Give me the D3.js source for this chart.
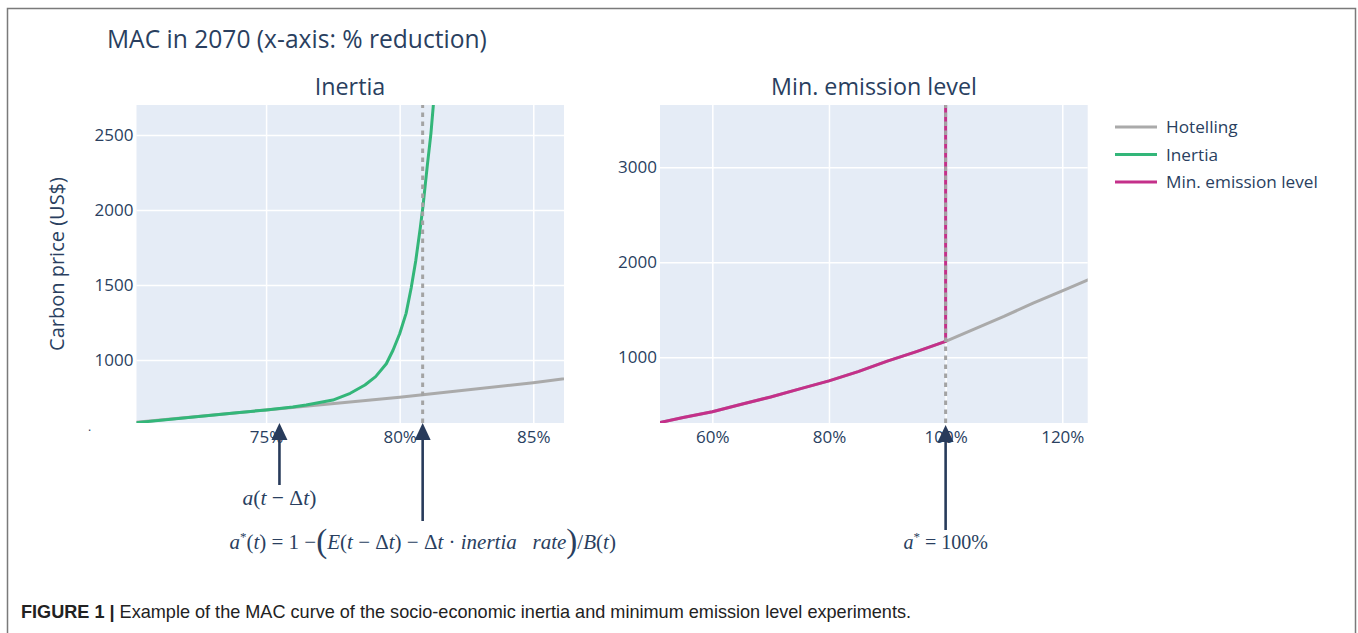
<!DOCTYPE html>
<html>
<head>
<meta charset="utf-8">
<script src="https://cdn.jsdelivr.net/npm/d3@7"></script>
<style>
  html, body { margin: 0; padding: 0; background: #fff; }
  svg { display: block; }
</style>
</head>
<body>
<svg id="chart" width="1358" height="633"></svg>
<script>
// ---------- DATA ----------
const hotellingX = [50, 55, 60, 65, 70, 75, 80, 85, 90, 95, 100, 105, 110, 115, 120, 125];
const hotellingY = [300, 365, 427, 505, 582, 667, 752, 849, 960, 1060, 1167, 1300, 1430, 1570, 1700, 1830];

const inertiaX = [70, 72, 74, 75, 76, 76.5, 77.5, 78.15, 78.7, 79.1, 79.5, 79.75, 80, 80.24, 80.43, 80.6, 80.77, 80.87, 81.03, 81.17, 81.26, 81.4];
const inertiaY = [580, 615, 650, 667, 686, 700, 733, 778, 833, 889, 975, 1065, 1175, 1311, 1480, 1660, 1880, 2022, 2289, 2511, 2700, 3000];

const minEmX = [50, 55, 60, 65, 70, 75, 80, 85, 90, 95, 100, 100];
const minEmY = [300, 365, 427, 505, 582, 667, 752, 849, 960, 1060, 1167, 5000];

const leftXTicks = [75, 80, 85];
const leftYTicks = [1000, 1500, 2000, 2500];
const rightXTicks = [60, 80, 100, 120];
const rightYTicks = [1000, 2000, 3000];

const leftDomainX = [70.15, 86.15];
const leftDomainY = [580, 2700];
const rightDomainX = [51.03, 124.36];
const rightDomainY = [308, 3656];

const inertiaTarget = 80.86;   // a*(t)
const inertiaPrev = 75.5;      // a(t - Δt)
const minEmTarget = 100;       // a* = 100%

const seriesNames = ["Hotelling", "Inertia", "Min. emission level"];
const seriesColors = ["#aaaaaa", "#33b679", "#c4308a"];

// ---------- DRAW ----------
const svg = d3.select("#chart");
const txt = "#2a3f5f";
const font = "'Open Sans', 'Noto Sans', sans-serif";

// outer frame
svg.append("path")
  .attr("d", "M7.5,640 L7.5,8.5 L1355.5,8.5 L1355.5,640")
  .attr("fill", "none").attr("stroke", "#7a7a7a").attr("stroke-width", 1.5);

const defs = svg.append("defs");

function panel(opts) {
  const { x0, x1, y0, y1, domX, domY, xt, yt, id } = opts;
  const xs = d3.scaleLinear().domain(domX).range([x0, x1]);
  const ys = d3.scaleLinear().domain(domY).range([y1, y0]);
  defs.append("clipPath").attr("id", id)
    .append("rect").attr("x", x0).attr("y", y0).attr("width", x1 - x0).attr("height", y1 - y0);
  const g = svg.append("g");
  g.append("rect").attr("x", x0).attr("y", y0).attr("width", x1 - x0).attr("height", y1 - y0)
    .attr("fill", "#e5ecf6");
  g.append("g").attr("transform", `translate(0,${y1})`)
    .call(d3.axisBottom(xs).tickValues(xt).tickSize(-(y1 - y0)).tickFormat(d => d + "%"))
    .call(a => a.select(".domain").remove())
    .call(a => a.selectAll("line").attr("stroke", "#fff").attr("stroke-width", 1.5))
    .call(a => a.selectAll("text").attr("fill", txt).attr("font-size", 17)
      .attr("font-family", font).attr("dy", null).attr("y", 20));
  g.append("g").attr("transform", `translate(${x0},0)`)
    .call(d3.axisLeft(ys).tickValues(yt).tickSize(-(x1 - x0)).tickFormat(d3.format("d")))
    .call(a => a.select(".domain").remove())
    .call(a => a.selectAll("line").attr("stroke", "#fff").attr("stroke-width", 1.5))
    .call(a => a.selectAll("text").attr("fill", txt).attr("font-size", 17)
      .attr("font-family", font).attr("x", -3));
  const lines = g.append("g").attr("clip-path", `url(#${id})`);
  return { xs, ys, g, lines };
}

function drawLine(p, X, Y, color) {
  const data = X.map((x, i) => [x, Y[i]]);
  p.lines.append("path").datum(data)
    .attr("d", d3.line().x(d => p.xs(d[0])).y(d => p.ys(d[1])))
    .attr("fill", "none").attr("stroke", color).attr("stroke-width", 3)
    .attr("stroke-linejoin", "round");
}

function dotted(p, xv) {
  p.lines.append("line")
    .attr("x1", p.xs(xv)).attr("x2", p.xs(xv))
    .attr("y1", p.ys.range()[0]).attr("y2", p.ys.range()[1])
    .attr("stroke", "#a3a3a3").attr("stroke-width", 3).attr("stroke-dasharray", "4.5,4.5");
}

function arrow(p, xv, tipY, bottomY) {
  const x = p.xs(xv);
  const ac = "#283b5b";
  svg.append("line").attr("x1", x).attr("x2", x).attr("y1", bottomY).attr("y2", tipY + 14)
    .attr("stroke", ac).attr("stroke-width", 2.6);
  svg.append("path").attr("d", `M${x},${tipY} L${x + 8},${tipY + 17} L${x - 8},${tipY + 17} Z`)
    .attr("fill", ac);
}

const L = panel({ x0: 136.5, x1: 564, y0: 105, y1: 423, domX: leftDomainX, domY: leftDomainY,
  xt: leftXTicks, yt: leftYTicks, id: "clipL" });
const R = panel({ x0: 660, x1: 1087.7, y0: 105, y1: 423, domX: rightDomainX, domY: rightDomainY,
  xt: rightXTicks, yt: rightYTicks, id: "clipR" });

drawLine(L, hotellingX, hotellingY, seriesColors[0]);
drawLine(L, inertiaX, inertiaY, seriesColors[1]);
dotted(L, inertiaTarget);

drawLine(R, hotellingX, hotellingY, seriesColors[0]);
drawLine(R, minEmX, minEmY, seriesColors[2]);
dotted(R, minEmTarget);

// titles
svg.append("text").attr("x", 107).attr("y", 48).text("MAC in 2070 (x-axis: % reduction)")
  .attr("font-family", font).attr("font-size", 24.6).attr("fill", txt);
svg.append("text").attr("x", 350).attr("y", 95).attr("text-anchor", "middle").text("Inertia")
  .attr("font-family", font).attr("font-size", 23.3).attr("fill", txt);
svg.append("text").attr("x", 874).attr("y", 95).attr("text-anchor", "middle").text("Min. emission level")
  .attr("font-family", font).attr("font-size", 23.3).attr("fill", txt);
svg.append("text").attr("transform", "translate(64,264) rotate(-90)").attr("text-anchor", "middle")
  .text("Carbon price (US$)").attr("font-family", font).attr("font-size", 20).attr("fill", txt);
svg.append("text").attr("x", 88).attr("y", 431).text(".").attr("font-family", font)
  .attr("font-size", 12).attr("fill", txt);

// legend
const lg = svg.append("g");
seriesNames.forEach((n, i) => {
  const y = 127 + i * 27.5;
  lg.append("line").attr("x1", 1115).attr("x2", 1157).attr("y1", y).attr("y2", y)
    .attr("stroke", seriesColors[i]).attr("stroke-width", 3);
  lg.append("text").attr("x", 1166).attr("y", y + 6).text(n)
    .attr("font-family", font).attr("font-size", 17.2).attr("fill", txt);
});

// arrows
arrow(L, inertiaPrev, 423, 485);
arrow(L, inertiaTarget, 423, 521);
arrow(R, minEmTarget, 425, 530);

// math labels
const mf = "'Liberation Serif', 'DejaVu Serif', serif";
function mathText(x, y, parts, size) {
  const t = svg.append("text").attr("x", x).attr("y", y).attr("text-anchor", "middle")
    .attr("font-family", mf).attr("font-size", size).attr("fill", txt);
  parts.forEach(p => {
    const s = t.append("tspan").text(p[0]);
    if (p[1] === "i") s.attr("font-style", "italic");
    if (p[2]) s.attr("font-size", p[2]);
    if (p[3]) s.attr("dy", p[3]);
  });
  return t;
}
mathText(L.xs(inertiaPrev), 505, [["a", "i"], ["("], ["t", "i"], [" − Δ"], ["t", "i"], [")"]], 21.5);
mathText(L.xs(inertiaTarget), 549, [
  ["a", "i"], ["*", null, 13, -8], ["(", null, 21, 8], ["t", "i"], [") = 1 −"],
  ["(", null, 33, 3], ["E", "i", 21, -3], ["("], ["t", "i"], [" − Δ"], ["t", "i"], [") − Δ"], ["t", "i"],
  [" · "], ["inertia\u00a0\u00a0\u00a0rate", "i"], [")", null, 33, 3], ["/", null, 21, -3], ["B", "i"], ["("], ["t", "i"], [")"]
], 21);
mathText(R.xs(minEmTarget), 549, [["a", "i"], ["*", null, 13, -8], [" = 100%", null, 20, 8]], 20);

// caption
const cap = svg.append("text").attr("x", 21).attr("y", 618)
  .attr("font-family", "'Liberation Sans', Arial, sans-serif").attr("font-size", 18.1).attr("fill", "#222");
cap.append("tspan").text("FIGURE 1 | ").attr("font-weight", "bold");
cap.append("tspan").text("Example of the MAC curve of the socio-economic inertia and minimum emission level experiments.");
</script>
</body>
</html>
